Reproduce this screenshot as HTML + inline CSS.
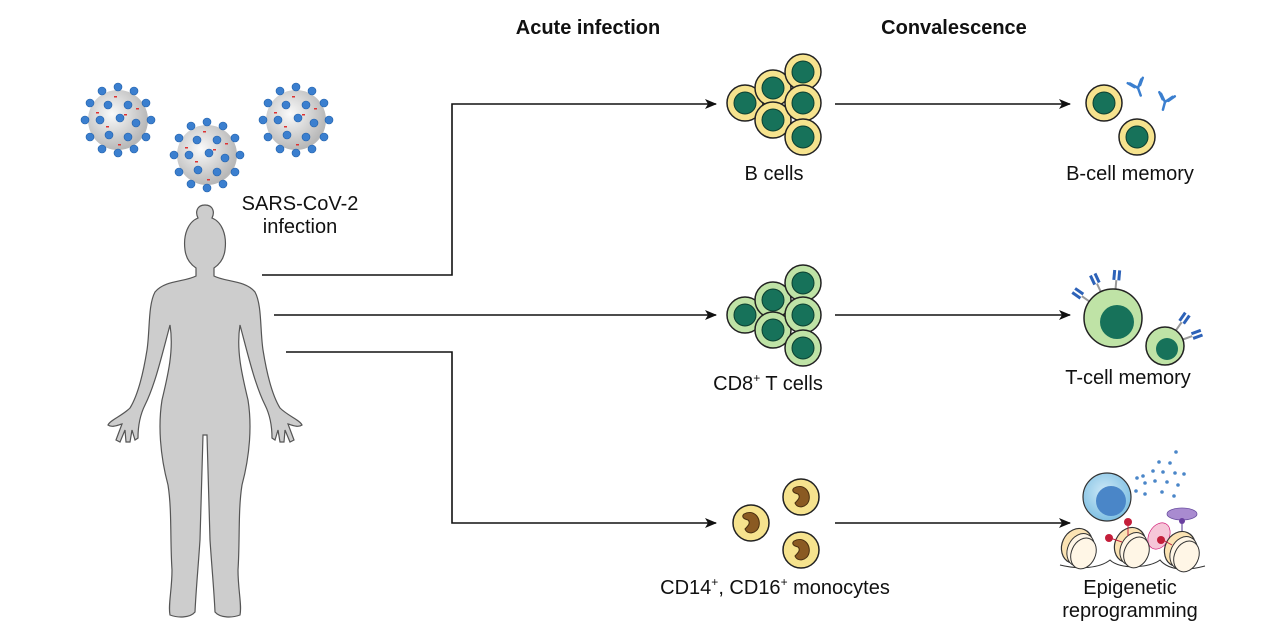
<!DOCTYPE html>
<html><head><meta charset="utf-8"><style>
html,body{margin:0;padding:0;background:#fff}
svg{display:block}
text{font-family:"Liberation Sans",Arial,sans-serif;fill:#111}
</style></head><body>
<svg width="1284" height="642" viewBox="0 0 1284 642" xmlns="http://www.w3.org/2000/svg">
<defs>
<radialGradient id="vg" cx="0.4" cy="0.4" r="0.6"><stop offset="0" stop-color="#fafafa"/><stop offset="1" stop-color="#b8b8b8"/></radialGradient>
<radialGradient id="bc" cx="0.45" cy="0.4" r="0.6"><stop offset="0" stop-color="#cfe9f7"/><stop offset="1" stop-color="#7fc0e3"/></radialGradient>
<marker id="ah" markerWidth="12" markerHeight="10" refX="11" refY="5" orient="auto" markerUnits="userSpaceOnUse"><path d="M0,0 L12,5 L0,10 L3,5 Z" fill="#111"/></marker>
<g id="virus">
<circle r="30" fill="url(#vg)"/>
<g fill="#3b7fcf" stroke="#1f5ea8" stroke-width="0.6">
<circle cx="0" cy="-33" r="4"/><circle cx="16" cy="-29" r="4"/><circle cx="-16" cy="-29" r="4"/><circle cx="28" cy="-17" r="4"/><circle cx="-28" cy="-17" r="4"/><circle cx="33" cy="0" r="4"/><circle cx="-33" cy="0" r="4"/><circle cx="28" cy="17" r="4"/><circle cx="-28" cy="17" r="4"/><circle cx="16" cy="29" r="4"/><circle cx="-16" cy="29" r="4"/><circle cx="0" cy="33" r="4"/>
<circle cx="-10" cy="-15" r="4"/><circle cx="10" cy="-15" r="4"/><circle cx="-18" cy="0" r="4"/><circle cx="2" cy="-2" r="4"/><circle cx="18" cy="3" r="4"/><circle cx="-9" cy="15" r="4"/><circle cx="10" cy="17" r="4"/>
</g>
<g fill="#d33" ><rect x="-4" y="-24" width="3" height="1.5"/><rect x="6" y="-6" width="3" height="1.5"/><rect x="-12" y="6" width="3" height="1.5"/><rect x="18" y="-12" width="3" height="1.5"/><rect x="-22" y="-8" width="3" height="1.5"/><rect x="0" y="24" width="3" height="1.5"/></g>
</g>
<g id="bcell"><circle r="18" fill="#f6e38e" stroke="#222" stroke-width="1.5"/><circle r="11" fill="#17725a" stroke="#0c3f30" stroke-width="1"/></g>
<g id="tcell"><circle r="18" fill="#bfe3a6" stroke="#222" stroke-width="1.5"/><circle r="11" fill="#17725a" stroke="#0c3f30" stroke-width="1"/></g>
<g id="mono"><circle r="18" fill="#f6e38e" stroke="#222" stroke-width="1.5"/><path d="M-7,-9 C2,-14 10,-6 8,3 C6,11 -4,12 -6,6 C-3,3 0,0 -3,-3 C-7,-4 -10,-6 -7,-9 Z" fill="#8a5a22" stroke="#4a2f10" stroke-width="1"/></g>
<g id="ab" stroke="#3b7fcf" stroke-width="2.5" fill="none" stroke-linecap="round"><path d="M0,8 L0,0 L-6,-7 M0,0 L6,-7 M-3,-2 L-8,-8 M3,-2 L8,-8"/></g>
<g id="tcr"><line x1="0" y1="0" x2="0" y2="-10" stroke="#999" stroke-width="2"/><rect x="-4" y="-20" width="3" height="10" fill="#2d62b8"/><rect x="1" y="-20" width="3" height="10" fill="#2d62b8"/></g>
<g id="nuc"><ellipse cx="0" cy="0" rx="15" ry="18" fill="#fbe3b3" stroke="#333" stroke-width="1.2" transform="rotate(25)"/><g stroke="#333" stroke-width="1" fill="#fff6e6"><ellipse cx="5" cy="2" rx="13" ry="17" transform="rotate(25)"/><ellipse cx="9" cy="4" rx="12" ry="16" transform="rotate(25)"/></g></g>
</defs>

<text x="588" y="34" font-size="20" font-weight="bold" text-anchor="middle">Acute infection</text>
<text x="954" y="34" font-size="20" font-weight="bold" text-anchor="middle">Convalescence</text>

<use href="#virus" x="118" y="120"/>
<use href="#virus" x="207" y="155"/>
<use href="#virus" x="296" y="120"/>
<text x="300" y="210" font-size="20" text-anchor="middle">SARS-CoV-2</text>
<text x="300" y="233" font-size="20" text-anchor="middle">infection</text>

<!-- human silhouette -->
<path fill="#cdcdcd" stroke="#555" stroke-width="1.2" d="M205,205 C197,205 195,212 198,218 C188,222 183,235 185,250 C186,258 190,264 196,268 L196,276 C185,282 165,280 155,292 C148,305 150,330 147,350 C143,375 138,395 130,408 C122,416 110,420 108,425 C112,428 118,425 122,424 L116,440 L120,442 L125,430 L126,442 L130,442 L132,430 L135,440 L138,438 C138,425 140,415 145,405 C155,385 162,355 170,325 C174,350 168,375 162,400 C158,425 160,455 168,485 C172,510 170,540 172,570 C172,590 168,605 170,615 C178,618 190,618 195,612 C196,590 198,570 200,540 L203,435 L207,435 L210,540 C212,570 214,590 215,612 C220,618 232,618 240,615 C242,605 238,590 238,570 C240,540 238,510 242,485 C250,455 252,425 248,400 C242,375 236,350 240,325 C248,355 255,385 265,405 C270,415 272,425 272,438 L275,440 L278,430 L280,442 L284,442 L285,430 L290,442 L294,440 L288,424 C292,425 298,428 302,425 C300,420 288,416 280,408 C272,395 267,375 263,350 C260,330 262,305 255,292 C245,280 225,282 214,276 L214,268 C220,264 224,258 225,250 C227,235 222,222 212,218 C215,212 213,205 205,205 Z"/>

<!-- connectors -->
<g stroke="#111" stroke-width="1.6" fill="none">
<path d="M262,275 L452,275 L452,104 L716,104" marker-end="url(#ah)"/>
<path d="M274,315 L716,315" marker-end="url(#ah)"/>
<path d="M286,352 L452,352 L452,523 L716,523" marker-end="url(#ah)"/>
<path d="M835,104 L1070,104" marker-end="url(#ah)"/>
<path d="M835,315 L1070,315" marker-end="url(#ah)"/>
<path d="M835,523 L1070,523" marker-end="url(#ah)"/>
</g>

<!-- B cells -->
<use href="#bcell" x="745" y="103"/><use href="#bcell" x="773" y="88"/><use href="#bcell" x="803" y="72"/>
<use href="#bcell" x="773" y="120"/><use href="#bcell" x="803" y="103"/><use href="#bcell" x="803" y="137"/>
<text x="774" y="180" font-size="20" text-anchor="middle">B cells</text>

<!-- T cells -->
<use href="#tcell" x="745" y="315"/><use href="#tcell" x="773" y="300"/><use href="#tcell" x="803" y="283"/>
<use href="#tcell" x="773" y="330"/><use href="#tcell" x="803" y="315"/><use href="#tcell" x="803" y="348"/>
<text x="768" y="390" font-size="20" text-anchor="middle">CD8<tspan font-size="12" dy="-8">+</tspan><tspan dy="8"> T cells</tspan></text>

<!-- monocytes -->
<use href="#mono" x="801" y="497"/><use href="#mono" x="751" y="523"/><use href="#mono" x="801" y="550"/>
<text x="775" y="594" font-size="20" text-anchor="middle">CD14<tspan font-size="12" dy="-8">+</tspan><tspan dy="8">, CD16</tspan><tspan font-size="12" dy="-8">+</tspan><tspan dy="8"> monocytes</tspan></text>

<!-- B memory -->
<use href="#bcell" x="1104" y="103"/><use href="#bcell" x="1137" y="137"/>
<use href="#ab" x="1138" y="88" transform="rotate(-20 1138 88)"/>
<use href="#ab" x="1165" y="102" transform="rotate(15 1165 102)"/>
<text x="1130" y="180" font-size="20" text-anchor="middle">B-cell memory</text>

<!-- T memory -->
<g transform="translate(1113,318)"><use href="#tcr" transform="rotate(-55) translate(0,-28)"/><use href="#tcr" transform="rotate(-25) translate(0,-28)"/><use href="#tcr" transform="rotate(5) translate(0,-28)"/>
<circle r="29" fill="#bfe3a6" stroke="#222" stroke-width="1.5"/><circle cx="4" cy="4" r="17" fill="#17725a"/></g>
<g transform="translate(1165,346)"><use href="#tcr" transform="rotate(35) translate(0,-19)"/><use href="#tcr" transform="rotate(70) translate(0,-19)"/>
<circle r="19" fill="#bfe3a6" stroke="#222" stroke-width="1.5"/><circle cx="2" cy="3" r="11" fill="#17725a"/></g>
<text x="1128" y="384" font-size="20" text-anchor="middle">T-cell memory</text>

<!-- Epigenetic -->
<g fill="#4a86c8"><circle cx="1176" cy="452" r="1.8"/><circle cx="1159" cy="462" r="1.8"/><circle cx="1170" cy="463" r="1.8"/><circle cx="1137" cy="478" r="1.8"/><circle cx="1143" cy="476" r="1.8"/><circle cx="1153" cy="471" r="1.8"/><circle cx="1163" cy="472" r="1.8"/><circle cx="1175" cy="473" r="1.8"/><circle cx="1184" cy="474" r="1.8"/><circle cx="1145" cy="483" r="1.8"/><circle cx="1155" cy="481" r="1.8"/><circle cx="1167" cy="482" r="1.8"/><circle cx="1178" cy="485" r="1.8"/><circle cx="1136" cy="491" r="1.8"/><circle cx="1145" cy="494" r="1.8"/><circle cx="1162" cy="492" r="1.8"/><circle cx="1174" cy="496" r="1.8"/></g>
<circle cx="1107" cy="497" r="24" fill="url(#bc)" stroke="#333" stroke-width="1.2"/>
<circle cx="1111" cy="501" r="15" fill="#4a86c8"/>
<path d="M1060,565 C1080,570 1100,568 1110,560 C1120,570 1150,568 1160,560 C1170,572 1190,570 1205,566" stroke="#333" stroke-width="1" fill="none"/>
<ellipse cx="1159" cy="536" rx="10" ry="14" fill="#f6c6d8" stroke="#c06" stroke-width="0.6" transform="rotate(30 1159 536)"/>
<ellipse cx="1182" cy="514" rx="15" ry="6" fill="#a98bd0" stroke="#6a4fa0" stroke-width="0.8"/>
<line x1="1182" y1="519" x2="1182" y2="540" stroke="#6a4fa0" stroke-width="1.2"/><circle cx="1182" cy="521" r="3" fill="#6a3fa0"/>
<use href="#nuc" x="1077" y="546"/><use href="#nuc" x="1130" y="545"/><use href="#nuc" x="1180" y="549"/>
<g stroke="#c02040" stroke-width="1"><line x1="1128" y1="523" x2="1128" y2="536"/><line x1="1110" y1="538" x2="1122" y2="542"/><line x1="1163" y1="540" x2="1172" y2="545"/></g>
<g fill="#c41e3a"><circle cx="1128" cy="522" r="4"/><circle cx="1109" cy="538" r="4"/><circle cx="1161" cy="540" r="4"/></g>
<text x="1130" y="594" font-size="20" text-anchor="middle">Epigenetic</text>
<text x="1130" y="617" font-size="20" text-anchor="middle">reprogramming</text>
</svg>
</body></html>
